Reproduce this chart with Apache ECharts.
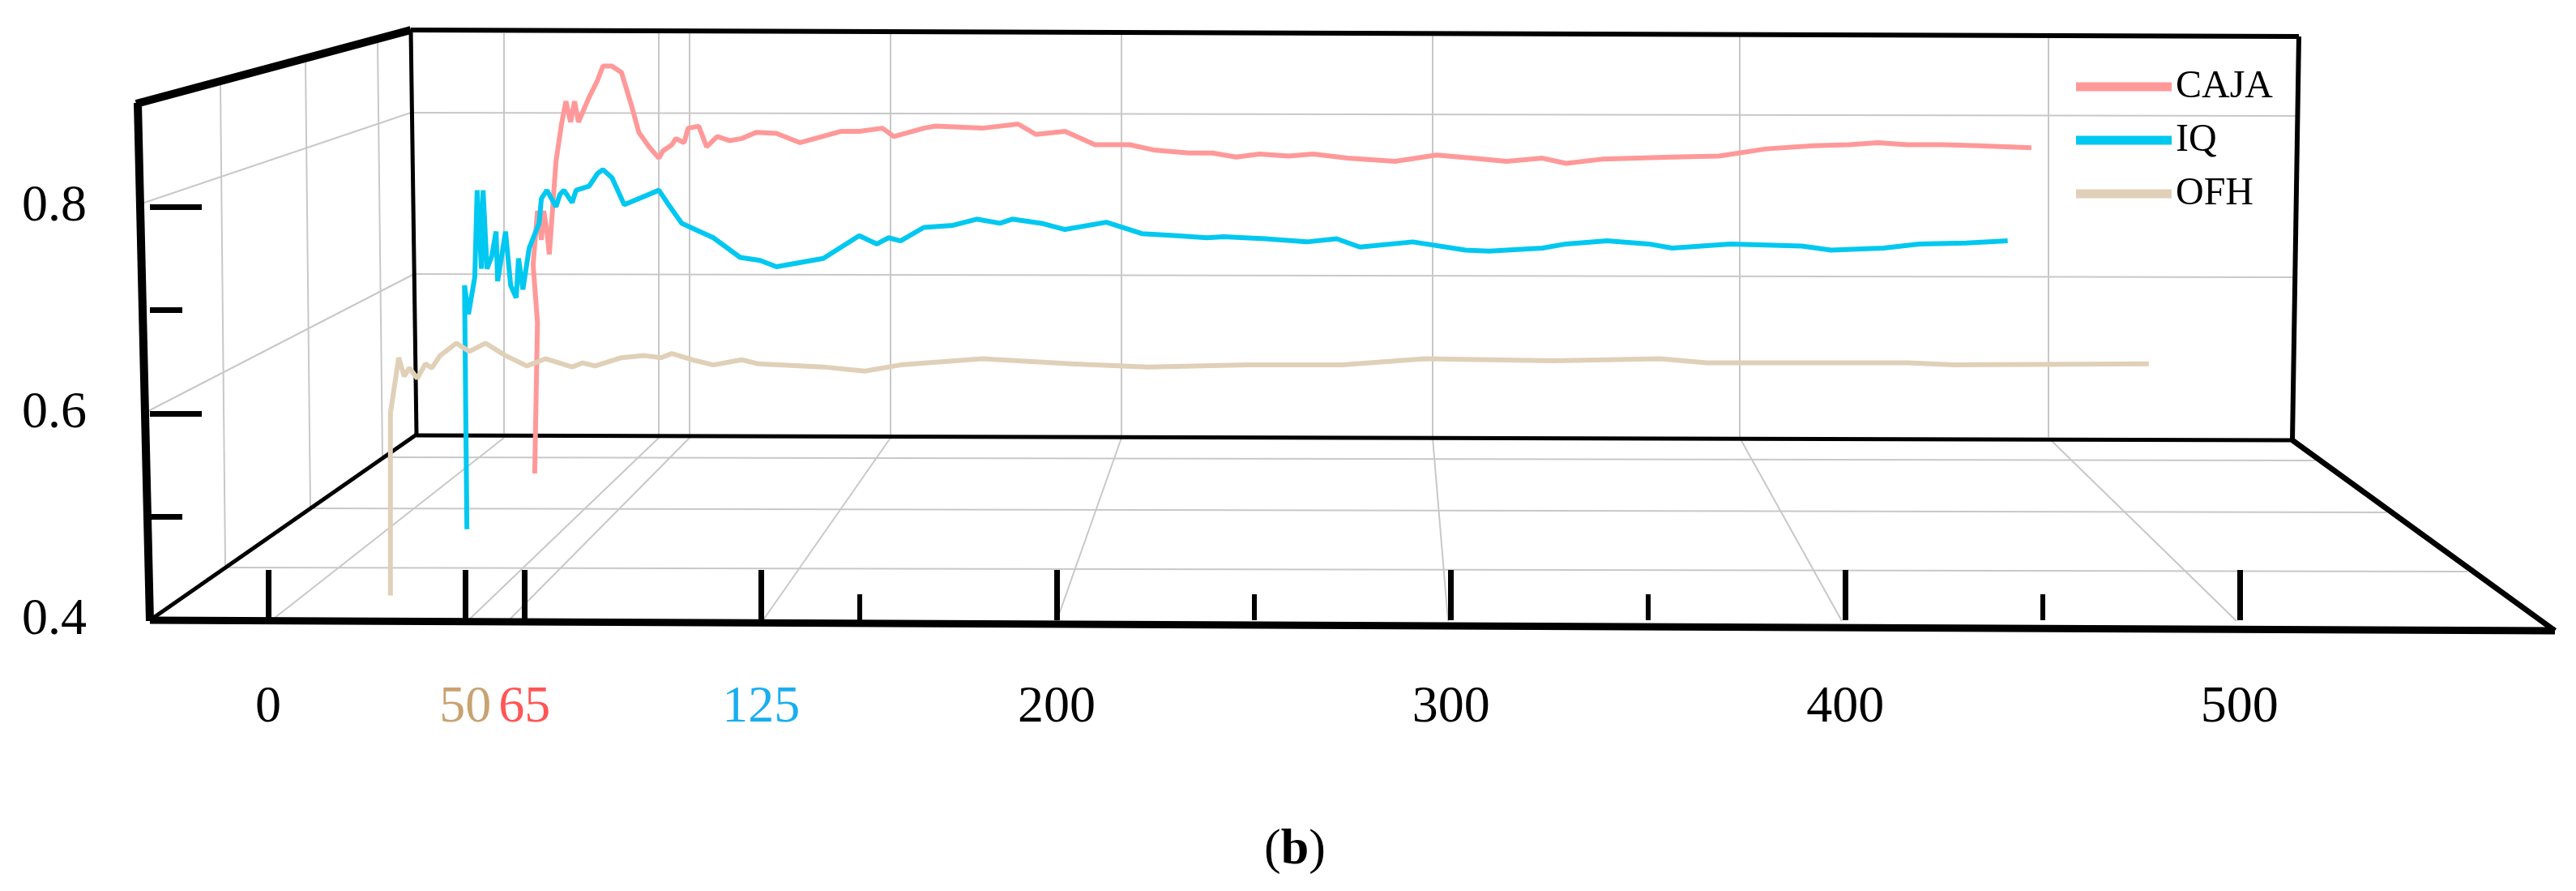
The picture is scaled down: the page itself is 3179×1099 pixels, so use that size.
<!DOCTYPE html>
<html>
<head>
<meta charset="utf-8">
<script src="https://cdn.jsdelivr.net/npm/echarts@6/dist/echarts.min.js"></script>
<style>html,body{margin:0;background:#fff}#main{width:3179px;height:1099px}</style>
</head>
<body>
<div id="main"></div>
<script>
// x positions of the front axis, y on the left axis
var cajaX = [67.6,68.3,67.2,68.3,69.3,69.9,70.7,71.3,73.0,74.4,75.5,76.7,77.7,78.7,81.4,83.5,84.9,87.2,89.6,92.3,94.0,96.6,99.1,100.1,102.4,103.4,105.5,106.5,109.2,111.2,113.9,117.0,120.1,123.8,128.9,134.9,145.4,149.9,155.8,158.7,166.3,169.2,181.1,190.2,194.7,202.1,209.7,218.5,224.5,233.6,239.5,245.5,251.4,258.8,265.0,273.8,285.8,296.3,305.3,314.1,323.2,329.2,338.2,356.1,368.0,379.9,391.9,400.9,408.3,415.7,424.8,433.8,447.2];
var cajaY = [0.542,0.688,0.744,0.796,0.768,0.796,0.776,0.754,0.844,0.880,0.902,0.882,0.902,0.882,0.906,0.922,0.936,0.936,0.930,0.896,0.872,0.858,0.847,0.854,0.860,0.866,0.862,0.876,0.878,0.858,0.868,0.864,0.866,0.872,0.871,0.862,0.873,0.873,0.876,0.868,0.876,0.878,0.876,0.880,0.870,0.873,0.860,0.860,0.855,0.852,0.852,0.848,0.851,0.849,0.851,0.847,0.844,0.850,0.847,0.844,0.847,0.842,0.846,0.848,0.849,0.856,0.859,0.860,0.862,0.860,0.860,0.859,0.857,0.854];
var iqX = [50.4,49.8,50.8,52.4,53.0,54.1,54.5,55.5,56.7,57.8,58.2,60.2,61.5,62.9,63.5,64.6,66.2,68.7,69.3,70.7,73.0,74.0,75.0,77.1,78.1,81.4,83.5,84.9,87.2,90.3,99.1,101.2,104.9,112.9,119.7,124.8,128.9,140.8,149.9,154.4,157.3,160.4,166.3,173.7,179.7,185.6,188.7,196.1,202.1,212.6,221.6,230.5,238.1,242.4,252.9,263.4,271.0,276.9,290.3,303.7,309.6,323.2,329.2,339.6,350.1,356.1,370.9,389.0,396.4,409.7,418.8,430.7,441.2];
var iqY = [0.488,0.724,0.696,0.732,0.816,0.740,0.816,0.740,0.752,0.776,0.728,0.776,0.724,0.712,0.750,0.720,0.760,0.784,0.808,0.816,0.800,0.812,0.816,0.804,0.816,0.820,0.832,0.836,0.828,0.802,0.816,0.804,0.784,0.770,0.751,0.748,0.742,0.750,0.772,0.764,0.770,0.767,0.780,0.782,0.788,0.784,0.788,0.784,0.778,0.785,0.774,0.772,0.770,0.771,0.769,0.766,0.769,0.761,0.766,0.758,0.757,0.760,0.764,0.767,0.764,0.760,0.764,0.762,0.758,0.760,0.764,0.765,0.767];
var ofhX = [31.0,31.0,33.1,34.5,35.8,37.8,39.9,41.5,43.6,47.7,51.0,55.1,60.2,65.6,70.3,77.1,79.8,82.9,89.6,95.4,99.7,102.4,107.5,112.9,120.1,124.4,140.8,151.3,160.4,181.1,203.7,223.1,248.6,272.4,293.4,326.1,353.0,364.9,415.7,427.8,477.0];
var ofhY = [0.424,0.600,0.654,0.636,0.644,0.634,0.648,0.644,0.656,0.668,0.660,0.668,0.656,0.646,0.653,0.645,0.649,0.646,0.654,0.656,0.654,0.658,0.652,0.647,0.652,0.648,0.645,0.641,0.647,0.653,0.648,0.645,0.647,0.647,0.653,0.651,0.653,0.649,0.649,0.647,0.648];

var xLabels = [0, 50, 65, 125, 200, 300, 400, 500];
var xLongTicks = [0, 50, 65, 125, 200, 300, 400, 500];
var xShortTicks = [150, 250, 350, 450];
var yLabels = [0.4, 0.6, 0.8];
var yLongTicks = [0.6, 0.8];
var yShortTicks = [0.5, 0.7];
var labelColors = {50: '#c9a272', 65: '#ff5555', 125: '#1aaef0'};

function pairs(xs, ys) { return xs.map(function (x, i) { return [x, ys[i]]; }); }

var font = 'Liberation Serif';
var grey = '#c8c8c8';
function seg(p, q, w, c) {
    return {type: 'line', shape: {x1: p[0], y1: p[1], x2: q[0], y2: q[1]}, style: {stroke: c, lineWidth: w}, z: 0};
}
var g = [];
// back wall grid
[622, 813, 851, 1099, 1384, 1768, 2147, 2528].forEach(function (x, i) {
    g.push(seg([x, 41], [x, 539], 2, grey));
    var fx = [334, 577, 627, 941, 1304, 1787, 2273, 2760][i];
    g.push(seg([x, 540], [fx, 766], 2, grey));
});
g.push(seg([510, 139], [2835, 143], 2, grey));
g.push(seg([512, 338], [2832, 342], 2, grey));
// left wall grid
g.push(seg([172, 252], [507, 139], 2, grey));
g.push(seg([181, 508], [511, 338], 2, grey));
g.push(seg([272, 105], [278, 697], 2, grey));
g.push(seg([377, 77], [383, 626], 2, grey));
g.push(seg([466, 52], [472, 565], 2, grey));
// floor grid
g.push(seg([474, 564], [2858, 568], 2, grey));
g.push(seg([383, 627], [2945, 632], 2, grey));
g.push(seg([278, 700], [3045, 705], 2, grey));
// frame
g.push(seg([507, 37], [2837, 45], 6, '#000'));
g.push(seg([507, 37], [514, 537], 5, '#000'));
g.push(seg([2837, 45], [2829, 543], 6, '#000'));
g.push(seg([514, 537], [2829, 543], 5, '#000'));
g.push(seg([185, 765], [514, 536], 5, '#000'));
g.push(seg([2829, 543], [3153, 778], 7, '#000'));
g.push(seg([185, 765], [3153, 778], 9, '#000'));
g.push(seg([170, 127], [185, 766], 10, '#000'));
g.push(seg([168, 128], [507, 37], 10, '#000'));
g.push({type: 'text', left: 1560, top: 1018, z: 5,
    style: {text: '({b|b})', font: '62px "Liberation Serif"', fill: '#000',
        rich: {b: {fontWeight: 'bold', fontSize: 62, fontFamily: font}}}});

var chart = echarts.init(document.getElementById('main'));
chart.setOption({
    backgroundColor: '#fff',
    animation: false,
    grid: {left: 185, right: 26, top: 37, bottom: 334},
    xAxis: [{
        type: 'value', min: -30, max: 580,
        splitLine: {show: false}, axisLine: {show: false, onZero: false},
        axisTick: {show: true, inside: true, length: 62, customValues: xLongTicks, lineStyle: {color: '#000', width: 7}},
        axisLabel: {customValues: xLabels, margin: 76, fontFamily: font, fontSize: 64,
            color: function (v) { return labelColors[v] || '#000'; }}
    }, {
        type: 'value', min: -30, max: 580, position: 'bottom',
        splitLine: {show: false}, axisLine: {show: false, onZero: false},
        axisTick: {show: true, inside: true, length: 32, customValues: xShortTicks, lineStyle: {color: '#000', width: 6}},
        axisLabel: {show: false}
    }],
    yAxis: [{
        type: 'value', min: 0.4, max: 0.971,
        splitLine: {show: false}, axisLine: {show: false, onZero: false},
        axisTick: {show: true, inside: true, length: 64, customValues: yLongTicks, lineStyle: {color: '#000', width: 7}},
        axisLabel: {customValues: yLabels, margin: 78, fontFamily: font, fontSize: 64, color: '#000',
            formatter: function (v) { return v.toFixed(1); }}
    }, {
        type: 'value', min: 0.4, max: 0.971, position: 'left',
        splitLine: {show: false}, axisLine: {show: false, onZero: false},
        axisTick: {show: true, inside: true, length: 40, customValues: yShortTicks, lineStyle: {color: '#000', width: 7}},
        axisLabel: {show: false}
    }],
    legend: {
        orient: 'vertical', left: 2557, top: 78, itemWidth: 118, itemHeight: 11, itemGap: 18,
        icon: 'rect',
        textStyle: {fontFamily: font, fontSize: 48, color: '#000'},
        data: ['CAJA', 'IQ', 'OFH']
    },
    graphic: g,
    series: [
        {name: 'CAJA', type: 'line', data: pairs(cajaX, cajaY), showSymbol: false, z: 3,
            lineStyle: {color: '#ff9999', width: 6}, itemStyle: {color: '#ff9999'}},
        {name: 'IQ', type: 'line', data: pairs(iqX, iqY), showSymbol: false, z: 3,
            lineStyle: {color: '#00c8f0', width: 6}, itemStyle: {color: '#00c8f0'}},
        {name: 'OFH', type: 'line', data: pairs(ofhX, ofhY), showSymbol: false, z: 3,
            lineStyle: {color: '#e0d0b8', width: 6}, itemStyle: {color: '#e0d0b8'}}
    ]
});
</script>
</body>
</html>
